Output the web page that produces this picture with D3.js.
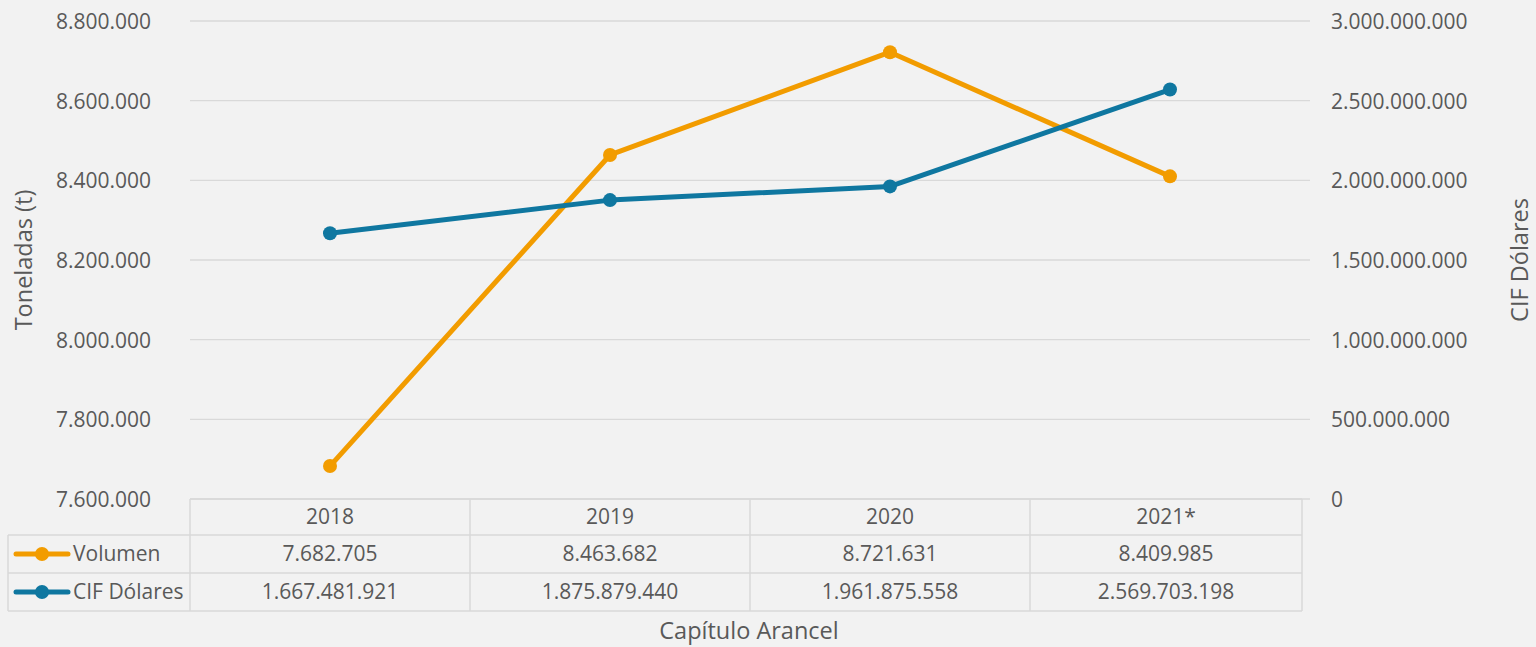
<!DOCTYPE html>
<html>
<head>
<meta charset="utf-8">
<script src="https://cdn.jsdelivr.net/npm/d3@7"></script>
<style>
  body { margin: 0; background: #f2f2f2; }
  text { font-family: "Open Sans", sans-serif; fill: #595959; }
</style>
</head>
<body>
<script>
// chart data
var years = ["2018", "2019", "2020", "2021*"];
var volumen = [7682705, 8463682, 8721631, 8409985];
var cif = [1667481921, 1875879440, 1961875558, 2569703198];
var left_ticks = [7600000, 7800000, 8000000, 8200000, 8400000, 8600000, 8800000];
var right_ticks = [0, 500000000, 1000000000, 1500000000, 2000000000, 2500000000, 3000000000];
var series_names = ["Volumen", "CIF Dólares"];
var series_colors = ["#f29c00", "#0f77a0"];

var W = 1536, H = 647;
var plot_left = 190, plot_right = 1310, plot_top = 21, plot_bottom = 499;
var fs = '21px', title_fs = '23.5px';

var loc = d3.formatLocale({decimal: ",", thousands: ".", grouping: [3], currency: ["", ""]});
var fmt = loc.format(",d");

var svg = d3.select('body').append('svg')
	.attr('width', W)
	.attr('height', H);

svg.append('rect').attr('width', W).attr('height', H).attr('fill', '#f2f2f2');

var x = d3.scaleBand().domain(years).range([plot_left, plot_right]);
var y_left = d3.scaleLinear().domain([7600000, 8800000]).range([plot_bottom, plot_top]);
var y_right = d3.scaleLinear().domain([0, 3000000000]).range([plot_bottom, plot_top]);

// gridlines
svg.append('g').selectAll('line').data(left_ticks).enter().append('line')
	.attr('x1', plot_left).attr('x2', plot_right)
	.attr('y1', d => y_left(d)).attr('y2', d => y_left(d))
	.attr('stroke', '#d9d9d9').attr('stroke-width', 1.3);

// left axis
var gl = svg.append('g').attr('transform', 'translate(151,0)')
	.call(d3.axisLeft(y_left).tickValues(left_ticks).tickFormat(fmt).tickSize(0).tickPadding(0));
gl.select('.domain').remove();
gl.selectAll('text').style('font-size', fs).attr('fill', '#595959').attr('dy', '0.35em');

// right axis
var gr = svg.append('g').attr('transform', 'translate(1331,0)')
	.call(d3.axisRight(y_right).tickValues(right_ticks).tickFormat(fmt).tickSize(0).tickPadding(0));
gr.select('.domain').remove();
gr.selectAll('text').style('font-size', fs).attr('fill', '#595959').attr('dy', '0.35em');

// axis titles
svg.append('text').text('Toneladas (t)')
	.attr('transform', 'translate(32,260) rotate(-90)')
	.attr('text-anchor', 'middle').style('font-size', title_fs);
svg.append('text').text('CIF Dólares')
	.attr('transform', 'translate(1528,260) rotate(-90)')
	.attr('text-anchor', 'middle').style('font-size', title_fs);
svg.append('text').text('Capítulo Arancel')
	.attr('x', 749).attr('y', 639)
	.attr('text-anchor', 'middle').style('font-size', title_fs);

// lines and markers
var cx = d => x(d) + x.bandwidth() / 2;
var series = [
	{vals: volumen, scale: y_left, color: series_colors[0]},
	{vals: cif, scale: y_right, color: series_colors[1]}
];
series.forEach(function(s) {
	var pts = years.map((d, i) => [cx(d), s.scale(s.vals[i])]);
	svg.append('path').attr('d', d3.line()(pts))
		.attr('fill', 'none').attr('stroke', s.color).attr('stroke-width', 5)
		.attr('stroke-linejoin', 'round');
	svg.append('g').selectAll('circle').data(pts).enter().append('circle')
		.attr('cx', d => d[0]).attr('cy', d => d[1]).attr('r', 7)
		.attr('fill', s.color);
});

// data table
var row_y = [499, 535, 573, 611];
var table_right = 1302;
var tb = svg.append('g').attr('stroke', '#d9d9d9').attr('stroke-width', 1.5);
// horizontal lines
tb.append('line').attr('x1', plot_left).attr('x2', table_right).attr('y1', row_y[0]).attr('y2', row_y[0]);
[1, 2, 3].forEach(function(i) {
	tb.append('line').attr('x1', 8).attr('x2', table_right).attr('y1', row_y[i]).attr('y2', row_y[i]);
});
// vertical lines
tb.append('line').attr('x1', 8).attr('x2', 8).attr('y1', row_y[1]).attr('y2', row_y[3]);
years.forEach(function(d, i) {
	tb.append('line').attr('x1', x(d)).attr('x2', x(d)).attr('y1', row_y[0]).attr('y2', row_y[3]);
});
tb.append('line').attr('x1', table_right).attr('x2', table_right).attr('y1', row_y[0]).attr('y2', row_y[3]);

// header cells
svg.append('g').selectAll('text').data(years).enter().append('text')
	.attr('x', d => cx(d) - (d === years[3] ? 4 : 0)).attr('y', (row_y[0] + row_y[1]) / 2)
	.attr('dy', '0.35em').attr('text-anchor', 'middle').style('font-size', fs)
	.text(d => d);

// value rows
[volumen, cif].forEach(function(vals, r) {
	var ym = (row_y[r + 1] + row_y[r + 2]) / 2;
	svg.append('g').selectAll('text').data(vals).enter().append('text')
		.attr('x', (d, i) => cx(years[i]) - (i === 3 ? 4 : 0)).attr('y', ym)
		.attr('dy', '0.35em').attr('text-anchor', 'middle').style('font-size', fs)
		.text(d => fmt(d));
	// legend key
	svg.append('line').attr('x1', 16).attr('x2', 68).attr('y1', ym).attr('y2', ym)
		.attr('stroke', series_colors[r]).attr('stroke-width', 5).attr('stroke-linecap', 'round');
	svg.append('circle').attr('cx', 42).attr('cy', ym).attr('r', 7).attr('fill', series_colors[r]);
	svg.append('text').text(series_names[r])
		.attr('x', 73).attr('y', ym).attr('dy', '0.35em').style('font-size', fs);
});
</script>
</body>
</html>
